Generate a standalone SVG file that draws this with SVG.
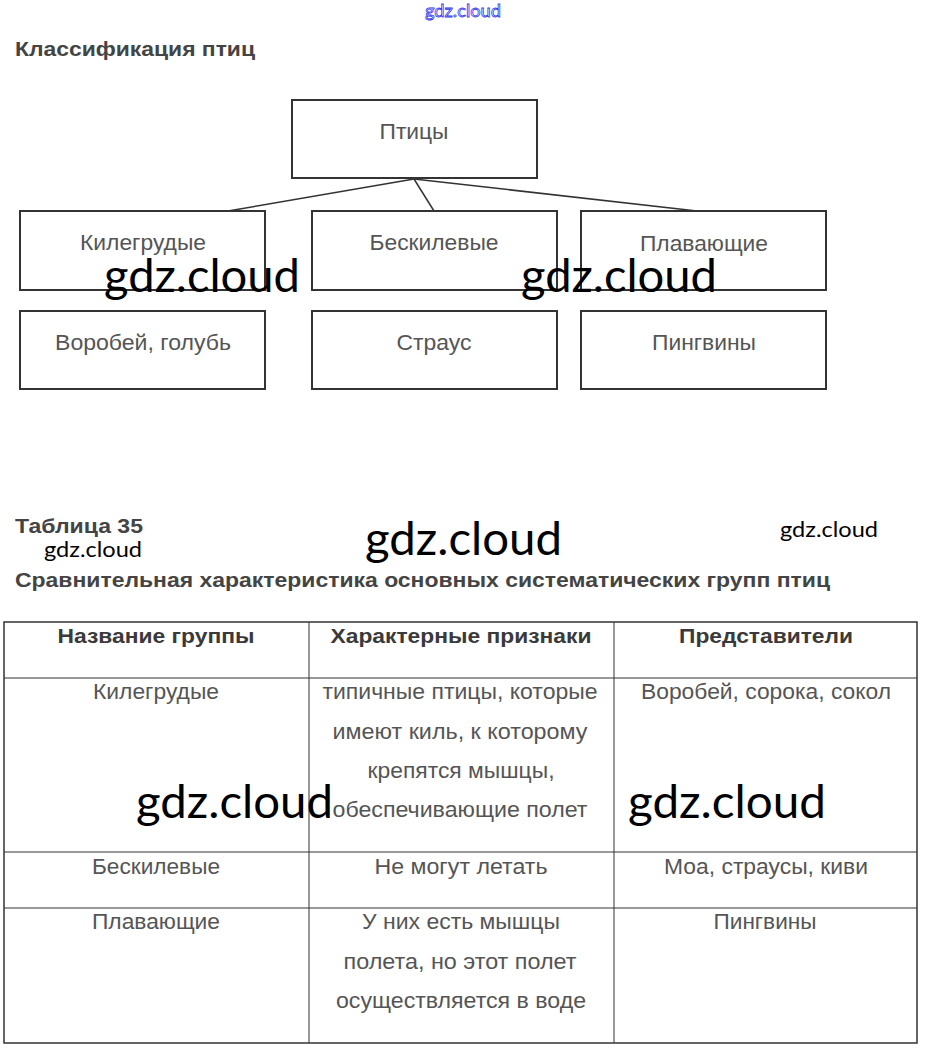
<svg xmlns="http://www.w3.org/2000/svg" width="926" height="1058" viewBox="0 0 926 1058">
<style>
.title{font-family:"Liberation Sans",Arial,sans-serif;font-weight:bold;font-size:21px;fill:#444}
.box{fill:#fff;stroke:#333;stroke-width:2}
.lbl{font-family:"Liberation Sans",Arial,sans-serif;font-size:22px;fill:#555;text-anchor:middle}
.th{font-family:"Liberation Sans",Arial,sans-serif;font-weight:bold;font-size:21px;fill:#3a3a3a;text-anchor:middle}
.td{font-family:"Liberation Sans",Arial,sans-serif;font-size:22px;fill:#555;text-anchor:middle}
.wm{font-family:Lato,"Open Sans",sans-serif;fill:#000}
.conn{stroke:#333;stroke-width:1.5;fill:none}
.grid{stroke:#333;stroke-width:1;fill:none}
</style>
<rect width="926" height="1058" fill="#fff"/>
<text x="463" y="17" text-anchor="middle" font-family="Lato,sans-serif" font-size="18" fill="#fff" stroke="#3333ee" stroke-width="0.8" textLength="76" lengthAdjust="spacingAndGlyphs">gdz.cloud</text>
<text class="title" x="15" y="56" textLength="240" lengthAdjust="spacingAndGlyphs">Классификация птиц</text>

<g id="connectors">
<line class="conn" x1="414" y1="179" x2="228" y2="211"/>
<line class="conn" x1="414" y1="179" x2="434" y2="211"/>
<line class="conn" x1="414" y1="179" x2="697" y2="211"/>
</g>

<g id="node-ptitsy"><rect class="box" x="292" y="100" width="245" height="78"/><text class="lbl" x="414" y="139" textLength="69" lengthAdjust="spacingAndGlyphs">Птицы</text></g>
<g id="node-kilegrudye"><rect class="box" x="20" y="211" width="245" height="79"/><text class="lbl" x="143" y="250" textLength="126" lengthAdjust="spacingAndGlyphs">Килегрудые</text></g>
<g id="node-beskilevye"><rect class="box" x="312" y="211" width="245" height="79"/><text class="lbl" x="434" y="250" textLength="129" lengthAdjust="spacingAndGlyphs">Бескилевые</text></g>
<g id="node-plavayushchie"><rect class="box" x="581" y="211" width="245" height="79"/><text class="lbl" x="704" y="251" textLength="128" lengthAdjust="spacingAndGlyphs">Плавающие</text></g>
<g id="node-vorobey"><rect class="box" x="20" y="311" width="245" height="78"/><text class="lbl" x="143" y="350" textLength="176" lengthAdjust="spacingAndGlyphs">Воробей, голубь</text></g>
<g id="node-straus"><rect class="box" x="312" y="311" width="245" height="78"/><text class="lbl" x="434" y="350" textLength="75" lengthAdjust="spacingAndGlyphs">Страус</text></g>
<g id="node-pingviny"><rect class="box" x="581" y="311" width="245" height="78"/><text class="lbl" x="704" y="350" textLength="104" lengthAdjust="spacingAndGlyphs">Пингвины</text></g>

<text class="wm" x="104" y="292" font-size="46" textLength="196" lengthAdjust="spacingAndGlyphs">gdz.cloud</text>
<text class="wm" x="521" y="292" font-size="46" textLength="196" lengthAdjust="spacingAndGlyphs">gdz.cloud</text>

<text class="title" x="15" y="533" textLength="128" lengthAdjust="spacingAndGlyphs">Таблица 35</text>
<text class="wm" x="44" y="557" font-size="22" textLength="98" lengthAdjust="spacingAndGlyphs">gdz.cloud</text>
<text class="wm" x="365" y="555" font-size="46" textLength="197" lengthAdjust="spacingAndGlyphs">gdz.cloud</text>
<text class="wm" x="780" y="537" font-size="22" textLength="98" lengthAdjust="spacingAndGlyphs">gdz.cloud</text>
<text class="title" x="15" y="587" textLength="815" lengthAdjust="spacingAndGlyphs">Сравнительная характеристика основных систематических групп птиц</text>

<g id="table">
<rect x="4" y="622" width="913" height="421" fill="none" stroke="#333" stroke-width="1.5"/>
<line class="grid" x1="309" y1="622" x2="309" y2="1043"/>
<line class="grid" x1="614" y1="622" x2="614" y2="1043"/>
<line class="grid" x1="4" y1="678" x2="917" y2="678"/>
<line class="grid" x1="4" y1="852" x2="917" y2="852"/>
<line class="grid" x1="4" y1="908" x2="917" y2="908"/>
<text class="th" x="156" y="643" textLength="197" lengthAdjust="spacingAndGlyphs">Название группы</text>
<text class="th" x="461" y="643" textLength="261" lengthAdjust="spacingAndGlyphs">Характерные признаки</text>
<text class="th" x="766" y="643" textLength="174" lengthAdjust="spacingAndGlyphs">Представители</text>
<text class="td" x="156" y="699" textLength="126" lengthAdjust="spacingAndGlyphs">Килегрудые</text>
<text class="td" x="460" y="699" textLength="275" lengthAdjust="spacingAndGlyphs">типичные птицы, которые</text>
<text class="td" x="460" y="739" textLength="255" lengthAdjust="spacingAndGlyphs">имеют киль, к которому</text>
<text class="td" x="461" y="778" textLength="187" lengthAdjust="spacingAndGlyphs">крепятся мышцы,</text>
<text class="td" x="460" y="817" textLength="255" lengthAdjust="spacingAndGlyphs">обеспечивающие полет</text>
<text class="td" x="766" y="699" textLength="250" lengthAdjust="spacingAndGlyphs">Воробей, сорока, сокол</text>
<text class="td" x="156" y="874" textLength="128" lengthAdjust="spacingAndGlyphs">Бескилевые</text>
<text class="td" x="461" y="874" textLength="173" lengthAdjust="spacingAndGlyphs">Не могут летать</text>
<text class="td" x="766" y="874" textLength="204" lengthAdjust="spacingAndGlyphs">Моа, страусы, киви</text>
<text class="td" x="156" y="929" textLength="128" lengthAdjust="spacingAndGlyphs">Плавающие</text>
<text class="td" x="461" y="929" textLength="198" lengthAdjust="spacingAndGlyphs">У них есть мышцы</text>
<text class="td" x="460" y="969" textLength="233" lengthAdjust="spacingAndGlyphs">полета, но этот полет</text>
<text class="td" x="461" y="1008" textLength="250" lengthAdjust="spacingAndGlyphs">осуществляется в воде</text>
<text class="td" x="765" y="929" textLength="103" lengthAdjust="spacingAndGlyphs">Пингвины</text>
</g>
<text class="wm" x="136" y="818" font-size="46" textLength="197" lengthAdjust="spacingAndGlyphs">gdz.cloud</text>
<text class="wm" x="628" y="818" font-size="46" textLength="198" lengthAdjust="spacingAndGlyphs">gdz.cloud</text>
</svg>
